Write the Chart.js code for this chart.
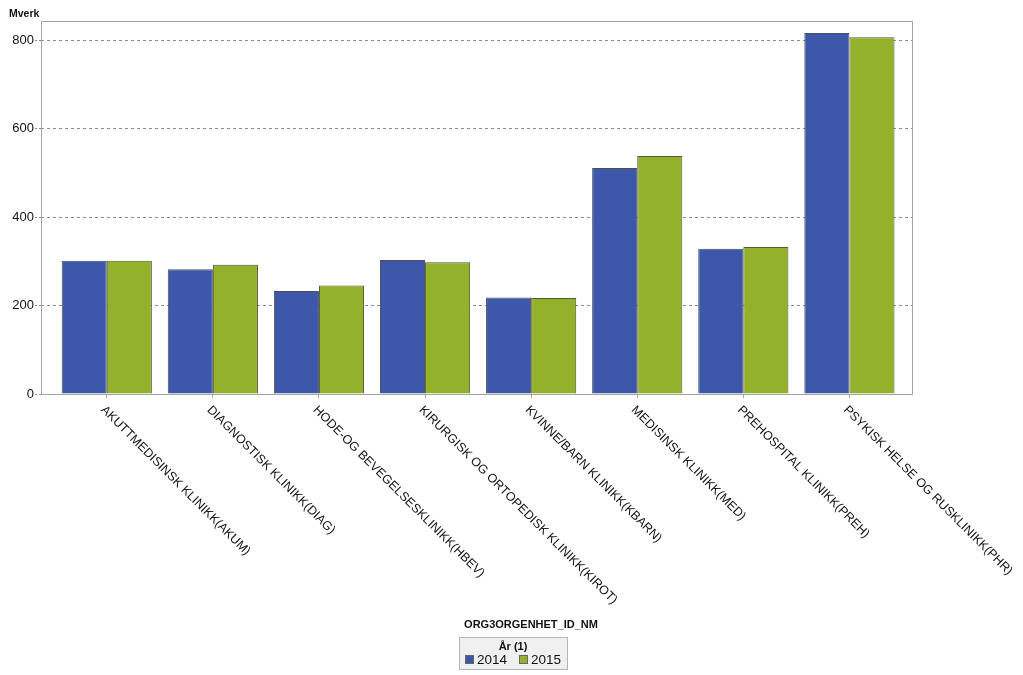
<!DOCTYPE html>
<html>
<head>
<meta charset="utf-8">
<script src="https://cdn.jsdelivr.net/npm/chart.js@4.4.0/dist/chart.umd.min.js"></script>
<style>
  html, body { margin: 0; background: #fff; }
  #wrap { width: 1023px; height: 675px; }
</style>
</head>
<body>
<div id="wrap"><canvas id="chart" width="1023" height="675"></canvas></div>
<script>
const categories = [
  'AKUTTMEDISINSK KLINIKK(AKUM)',
  'DIAGNOSTISK KLINIKK(DIAG)',
  'HODE-OG BEVEGELSESKLINIKK(HBEV)',
  'KIRURGISK OG ORTOPEDISK KLINIKK(KIROT)',
  'KVINNE/BARN KLINIKK(KBARN)',
  'MEDISINSK KLINIKK(MED)',
  'PREHOSPITAL KLINIKK(PREH)',
  'PSYKISK HELSE OG RUSKLINIKK(PHR)'
];
const years = ['2014', '2015'];
const values2014 = [301, 282, 233, 303, 218, 511, 328, 816];
const values2015 = [301, 292, 245, 298, 217, 538, 332, 806];
const yTickValues = [0, 200, 400, 600, 800];
const yMax = 843;

const yAxisTitle = 'Mverk';
const xAxisTitle = 'ORG3ORGENHET_ID_NM';
const legendTitle = 'År (1)';

const FONT = '"Liberation Sans", Arial, sans-serif';
const colors = ['#3d58ab', '#93b12a'];

const toPoints = (vals) => vals.map((v, i) => ({ x: i, y: v }));

// frame, rotated category labels, axis titles and legend box
const decor = {
  id: 'decor',
  beforeDatasetsDraw(chart){
    const { ctx, chartArea: a } = chart;
    ctx.save();
    ctx.strokeStyle = '#a3a3a3';
    ctx.lineWidth = 1;
    ctx.strokeRect(Math.round(a.left) + 0.5, Math.round(a.top) + 0.5,
      Math.round(a.right - a.left), Math.round(a.bottom - a.top));
    ctx.restore();
  },
  afterDraw(chart){
    const { ctx, chartArea: a } = chart;
    const xs = chart.scales.x;
    ctx.save();
    ctx.fillStyle = '#111';

    ctx.font = `12.5px ${FONT}`;
    ctx.textAlign = 'left';
    ctx.textBaseline = 'middle';
    categories.forEach((lab, i) => {
      ctx.save();
      ctx.translate(xs.getPixelForValue(i) - 4, a.bottom + 14);
      ctx.rotate(Math.PI / 4);
      ctx.fillText(lab, 0, 0);
      ctx.restore();
    });

    ctx.font = `bold 10.5px ${FONT}`;
    ctx.fillText(yAxisTitle, 9, 14);

    ctx.font = `bold 11px ${FONT}`;
    ctx.textAlign = 'center';
    ctx.fillText(xAxisTitle, 531, 625);

    // legend
    ctx.fillStyle = '#f0f0f0';
    ctx.fillRect(459, 637, 108, 32);
    ctx.strokeStyle = '#b5b5b5';
    ctx.strokeRect(459.5, 637.5, 108, 32);
    ctx.fillStyle = '#111';
    ctx.font = `bold 11px ${FONT}`;
    ctx.fillText(legendTitle, 513, 647);

    const itemX = [465, 519];
    ctx.textAlign = 'left';
    ctx.font = `13.5px ${FONT}`;
    chart.data.datasets.forEach((ds, i) => {
      ctx.fillStyle = ds.backgroundColor;
      ctx.fillRect(itemX[i], 655, 9, 9);
      ctx.strokeStyle = '#666';
      ctx.strokeRect(itemX[i] + 0.5, 655.5, 8, 8);
      ctx.fillStyle = '#111';
      ctx.fillText(ds.label, itemX[i] + 12, 660);
    });
    ctx.restore();
  }
};

new Chart(document.getElementById('chart'), {
  type: 'bar',
  data: {
    datasets: [
      { label: years[0], data: toPoints(values2014), backgroundColor: colors[0], borderColor: '#4a4f5a', borderWidth: 1 },
      { label: years[1], data: toPoints(values2015), backgroundColor: colors[1], borderColor: '#4f5a3a', borderWidth: 1 }
    ]
  },
  options: {
    responsive: false,
    animation: false,
    categoryPercentage: 0.85,
    barPercentage: 1,
    layout: { padding: { top: 21, right: 111, left: 0, bottom: 0 } },
    plugins: { legend: { display: false }, tooltip: { enabled: false } },
    scales: {
      x: {
        type: 'linear',
        min: -0.62,
        max: 7.59,
        offset: false,
        afterBuildTicks: (s) => { s.ticks = categories.map((_, i) => ({ value: i })); },
        afterFit: (s) => { s.height = 281; },
        ticks: { callback: () => '', autoSkip: false, maxRotation: 0 },
        grid: { offset: false, drawOnChartArea: false, drawTicks: true, tickLength: 4, color: '#a3a3a3' },
        border: { display: false }
      },
      y: {
        min: 0,
        max: yMax,
        afterBuildTicks: (s) => { s.ticks = yTickValues.map(v => ({ value: v })); },
        afterFit: (s) => { s.width = 41; },
        ticks: { includeBounds: false, color: '#111', font: { family: FONT, size: 13 }, padding: 1 },
        grid: { color: '#8c8c8c', tickLength: 6, tickColor: '#8c8c8c', tickBorderDash: [2, 2] },
        border: { display: false, dash: [3, 3] }
      }
    }
  },
  plugins: [decor]
});
</script>
</body>
</html>
